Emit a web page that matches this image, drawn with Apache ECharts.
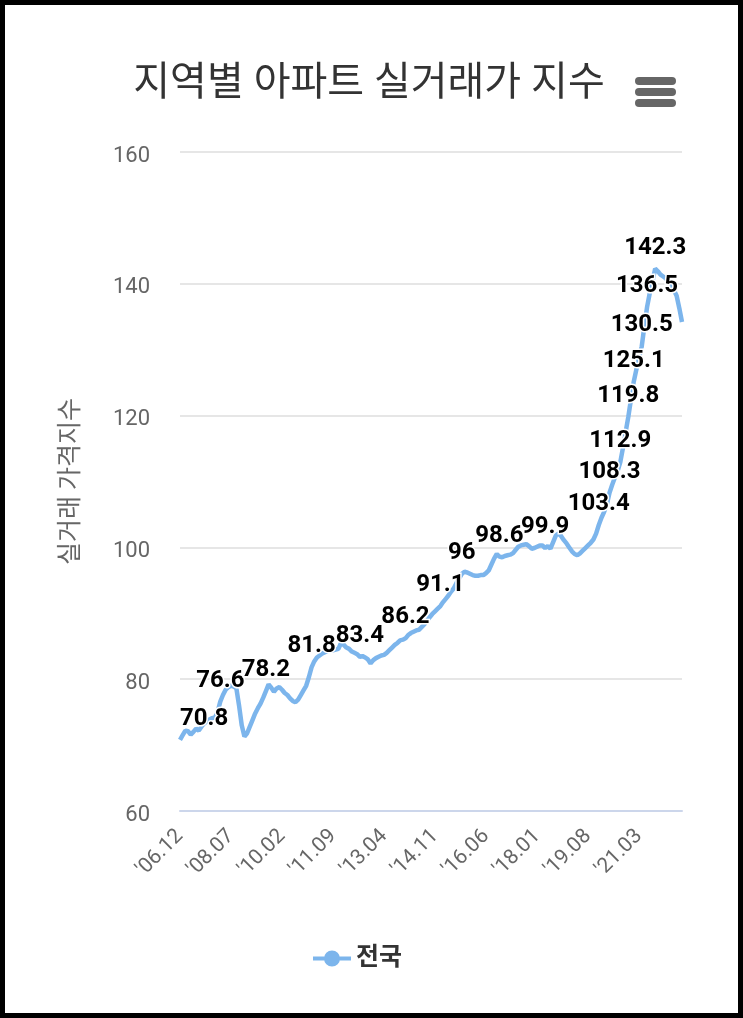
<!DOCTYPE html>
<html>
<head>
<meta charset="utf-8">
<script src="https://cdn.jsdelivr.net/npm/echarts@6/dist/echarts.min.js"></script>
<style>
  html, body { margin: 0; padding: 0; background: #000; }
  #chart { width: 743px; height: 1018px; box-sizing: border-box; border: 5px solid #000; background: #fff; }
</style>
</head>
<body>
<div id="chart"></div>
<script>
// 월별 실거래가 지수 (전국), '06.12 ~ '22.07
const startYear = 2006
const startMonth = 12
const seriesName = '전국'
const values = [
  70.8, 71.5, 72.2, 72.1, 71.6, 72.0, 72.5, 72.2, 72.8, 73.3,
  73.6, 73.9, 74.1, 74.2, 75.0, 76.6, 77.6, 78.4, 78.8, 79.0,
  78.9, 78.6, 76.0, 73.0, 71.3, 71.8, 72.8, 73.8, 74.8, 75.6,
  76.3, 77.2, 78.2, 79.2, 78.7, 78.1, 78.6, 78.8, 78.4, 77.9,
  77.6, 77.1, 76.7, 76.5, 76.9, 77.6, 78.3, 79.0, 80.3, 81.8,
  82.7, 83.3, 83.6, 83.9, 84.1, 84.3, 84.4, 84.4, 84.5, 84.6,
  85.5, 85.2, 84.8, 84.6, 84.2, 84.0, 83.8, 83.4, 83.5, 83.3,
  83.0, 82.4, 82.9, 83.2, 83.4, 83.6, 83.7, 84.0, 84.4, 84.8,
  85.2, 85.5, 85.9, 86.0, 86.2, 86.7, 87.0, 87.2, 87.4, 87.5,
  87.9, 88.3, 88.9, 89.4, 89.9, 90.3, 90.7, 91.1, 91.7, 92.2,
  92.7, 93.3, 93.8, 94.6, 95.3, 96.0, 96.3, 96.2, 96.0, 95.8,
  95.7, 95.7, 95.8, 95.8, 96.1, 96.5, 97.4, 98.3, 99.0, 98.6,
  98.5, 98.7, 98.8, 98.9, 99.1, 99.6, 100.1, 100.3, 100.4, 100.5,
  100.2, 99.8, 99.9, 100.1, 100.3, 100.3, 99.9, 100.2, 99.8, 100.8,
  101.8, 102.1, 101.7, 101.1, 100.6, 100.0, 99.4, 99.0, 98.8, 99.1,
  99.5, 99.9, 100.3, 100.7, 101.2, 102.1, 103.4, 104.5, 105.4, 106.5,
  108.3, 109.5, 110.6, 111.6, 112.9, 115.1, 117.5, 119.8, 122.5, 125.1,
  127.0, 128.8, 130.5, 133.6, 136.5, 138.6, 140.3, 142.3, 141.9, 141.4,
  141.1, 140.8, 140.3, 139.8, 139.0, 138.2, 136.3, 134.2
]
// 값 라벨이 보이는 지점
const labeledIdx = [0, 15, 32, 49, 67, 84, 97, 105, 119, 136, 156, 160, 164, 167, 169, 172, 174, 177]
const yTicks = [60, 80, 100, 120, 140, 160]

// 카테고리: '06.12 형식
const categories = []
for (let i = 0; i < values.length; i++) {
  const m = startMonth - 1 + i
  const y = startYear + Math.floor(m / 12)
  const mm = (m % 12) + 1
  categories.push("'" + String(y % 100).padStart(2, '0') + '.' + String(mm).padStart(2, '0'))
}

const font = 'Roboto, "Noto Sans CJK KR", sans-serif'
const chart = echarts.init(document.getElementById('chart'))

const seriesData = values.map((v, i) => {
  if (!labeledIdx.includes(i)) return v
  const item = { value: v, label: { show: true } }
  if (i === 0) item.label.align = 'left'
  return item
})

const option = {
  backgroundColor: '#fff',
  animation: false,
  title: {
    text: '지역별 아파트 실거래가 지수',
    left: 359,
    top: 55,
    textAlign: 'center',
    textStyle: { fontFamily: font, fontSize: 40, fontWeight: 'normal', color: '#333' }
  },
  graphic: [
    { type: 'rect', left: 630, top: 72, shape: { width: 41, height: 8, r: 4 }, style: { fill: '#666' } },
    { type: 'rect', left: 630, top: 83, shape: { width: 41, height: 8, r: 4 }, style: { fill: '#666' } },
    { type: 'rect', left: 630, top: 94, shape: { width: 41, height: 8, r: 4 }, style: { fill: '#666' } }
  ],
  legend: {
    data: [{
      name: seriesName,
      icon: 'path://M0,8 H38 V12 H0 Z M11,10 A8,8 0 1 1 27,10 A8,8 0 1 1 11,10 Z'
    }],
    left: 303,
    top: 936,
    itemWidth: 38,
    itemHeight: 20,
    itemGap: 11,
    textStyle: { fontFamily: font, fontSize: 25, fontWeight: 'bold', color: '#333' }
  },
  grid: { left: 175, right: 56, top: 147, bottom: 202 },
  xAxis: {
    type: 'category',
    data: categories,
    boundaryGap: false,
    axisLine: { lineStyle: { color: '#ccd6eb', width: 2 } },
    axisTick: { show: false },
    axisLabel: { interval: 18, rotate: 45, margin: 22, fontFamily: font, fontSize: 21, color: '#666' }
  },
  yAxis: {
    type: 'value',
    min: yTicks[0],
    max: yTicks[yTicks.length - 1],
    interval: 20,
    name: '실거래 가격지수',
    nameLocation: 'middle',
    nameGap: 96,
    nameTextStyle: { fontFamily: font, fontSize: 25, color: '#666' },
    axisLine: { show: false },
    axisTick: { show: false },
    axisLabel: { margin: 30, verticalAlign: 'top', lineHeight: 8, fontFamily: font, fontSize: 22, color: '#666' },
    splitLine: { lineStyle: { color: '#e6e6e6', width: 2 } }
  },
  series: [{
    name: seriesName,
    type: 'line',
    data: seriesData,
    symbol: 'circle',
    symbolSize: 0,
    showSymbol: true,
    showAllSymbol: true,
    lineStyle: { color: '#7cb5ec', width: 4.5 },
    itemStyle: { color: '#7cb5ec' },
    label: {
      show: false,
      position: 'top',
      distance: 9,
      fontFamily: font,
      fontSize: 24,
      fontWeight: 'bold',
      color: '#000',
      textBorderColor: '#fff',
      textBorderWidth: 3
    },
    emphasis: { disabled: true }
  }]
}

chart.setOption(option)
</script>
</body>
</html>
